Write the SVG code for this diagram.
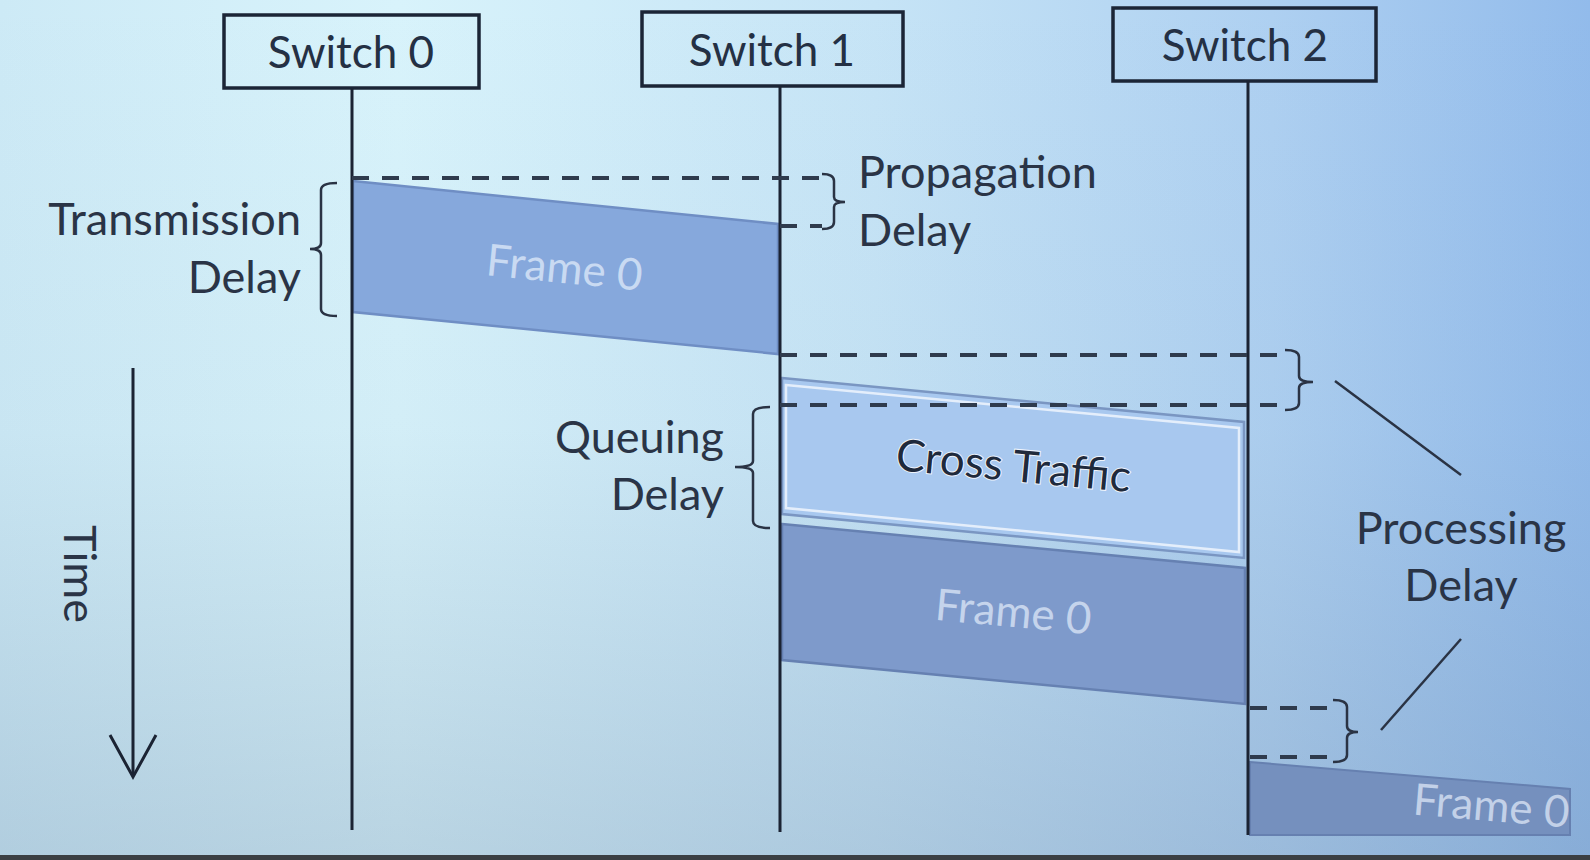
<svg xmlns="http://www.w3.org/2000/svg" width="1590" height="860" viewBox="0 0 1590 860">
<defs>
<linearGradient id="bgH" x1="0" y1="0" x2="1" y2="0">
<stop offset="0" stop-color="#cdeaf6"/>
<stop offset="0.25" stop-color="#d8f3fb"/>
<stop offset="0.55" stop-color="#c6e4f6"/>
<stop offset="0.8" stop-color="#aed0f1"/>
<stop offset="1" stop-color="#92bbeb"/>
</linearGradient>
<linearGradient id="bgV" x1="0" y1="0" x2="0" y2="1">
<stop offset="0" stop-color="#6f8aa8" stop-opacity="0"/>
<stop offset="0.5" stop-color="#6f8aa8" stop-opacity="0.05"/>
<stop offset="1" stop-color="#6f8aa8" stop-opacity="0.3"/>
</linearGradient>
<style>
.box{fill:none;stroke:#1b2536;stroke-width:3.5}
.life{stroke:#1b2333;stroke-width:3;fill:none}
.dash{stroke:#2f3b4d;stroke-width:4;stroke-dasharray:17 13;fill:none}
.brk{stroke:#2a3344;stroke-width:2.5;fill:none}
.lbl{font-family:Lato,"Liberation Sans",sans-serif;font-size:45px;fill:#2a3446}
.hd{font-family:Lato,"Liberation Sans",sans-serif;font-size:44px;fill:#243044;text-anchor:middle}
.ftxt{font-family:Lato,"Liberation Sans",sans-serif;font-size:44px;text-anchor:middle}
</style>
</defs>
<rect width="1590" height="860" fill="url(#bgH)"/>
<rect width="1590" height="860" fill="url(#bgV)"/>
<rect x="0" y="855" width="1590" height="5" fill="#3b3f43"/>

<g id="frames">
<g id="frame0-a">
<polygon points="353,181 778,224 778,354 353,312" fill="#86a8dc" stroke="#6f8ec4" stroke-width="2.5"/>
<text class="ftxt" fill="#c9daf2" transform="translate(563,283) rotate(5.8)">Frame 0</text>
</g>
<g id="cross-traffic">
<polygon points="782,378 1244,422 1244,558 782,514" fill="#a8c8ef" stroke="#7a96c2" stroke-width="2.5"/>
<polygon points="786,385 1239,428 1239,552 786,508" fill="none" stroke="#e4eefb" stroke-width="2.5"/>
<text class="ftxt" fill="#1f2a3c" stroke="#eef4fc" stroke-width="2" paint-order="stroke" transform="translate(1012,481) rotate(5.4)">Cross Traffic</text>
</g>
<g id="frame0-b">
<polygon points="782,524 1245,568 1245,704 782,660" fill="#7e9acb" stroke="#6681b2" stroke-width="2.5"/>
<text class="ftxt" fill="#c5d4ec" transform="translate(1012,627) rotate(5.3)">Frame 0</text>
</g>
<g id="frame0-c">
<polygon points="1250,762 1570,789 1570,835 1250,835" fill="#7590be" stroke="#6680b0" stroke-width="2"/>
<text class="ftxt" fill="#c3d1e8" transform="translate(1490,821) rotate(4.8)">Frame 0</text>
</g>
</g>

<g id="switch0">
<rect class="box" x="224" y="15" width="255" height="73"/>
<text class="hd" x="351" y="68">Switch 0</text>
</g>
<g id="switch1">
<rect class="box" x="642" y="12" width="261" height="74"/>
<text class="hd" x="772" y="66">Switch 1</text>
</g>
<g id="switch2">
<rect class="box" x="1113" y="8" width="263" height="73"/>
<text class="hd" x="1245" y="61">Switch 2</text>
</g>

<g id="connectors">
<line class="life" x1="352" y1="88" x2="352" y2="830"/>
<line class="life" x1="780" y1="86" x2="780" y2="832"/>
<line class="life" x1="1248" y1="81" x2="1248" y2="835"/>
<path class="dash" d="M352,178 H822"/>
<path class="dash" d="M780,226 H822"/>
<path class="dash" d="M780,355 H1285"/>
<path class="dash" d="M780,405 H1285"/>
<path class="dash" d="M1250,708 H1333"/>
<path class="dash" d="M1250,757 H1333"/>
<path class="brk" d="M337,183 Q321,183 321,190 V243 Q321,249 310,249 Q321,249 321,255 V309 Q321,316 337,316"/>
<path class="brk" d="M822,174 Q834,174 834,181 V197 Q834,202 845,202 Q834,202 834,207 V222 Q834,229 822,229"/>
<path class="brk" d="M1285,350 Q1299,350 1299,357 V376 Q1299,382 1313,382 Q1299,382 1299,388 V403 Q1299,410 1285,410"/>
<path class="brk" d="M1333,700 Q1347,700 1347,707 V726 Q1347,732 1358,732 Q1347,732 1347,738 V755 Q1347,762 1333,762"/>
<path class="brk" d="M770,407 Q753,407 753,414 V461 Q753,467 735,467 Q753,467 753,473 V521 Q753,528 770,528"/>
<line class="brk" x1="1335" y1="381" x2="1461" y2="475"/>
<line class="brk" x1="1461" y1="639" x2="1381" y2="730"/>
<line class="life" x1="133" y1="368" x2="133" y2="776"/>
<path class="life" d="M110,735 L133,777 L156,735"/>
</g>

<g id="labels">
<text class="lbl" x="301" y="235" text-anchor="end">Transmission</text>
<text class="lbl" x="301" y="293" text-anchor="end">Delay</text>
<text class="lbl" x="858" y="188">Propagation</text>
<text class="lbl" x="858" y="246">Delay</text>
<text class="lbl" x="724" y="453" text-anchor="end">Queuing</text>
<text class="lbl" x="724" y="510" text-anchor="end">Delay</text>
<text class="lbl" x="1461" y="544" text-anchor="middle">Processing</text>
<text class="lbl" x="1461" y="601" text-anchor="middle">Delay</text>
<text class="lbl" x="0" y="0" text-anchor="middle" transform="translate(64,574) rotate(90)">Time</text>
</g>
</svg>
